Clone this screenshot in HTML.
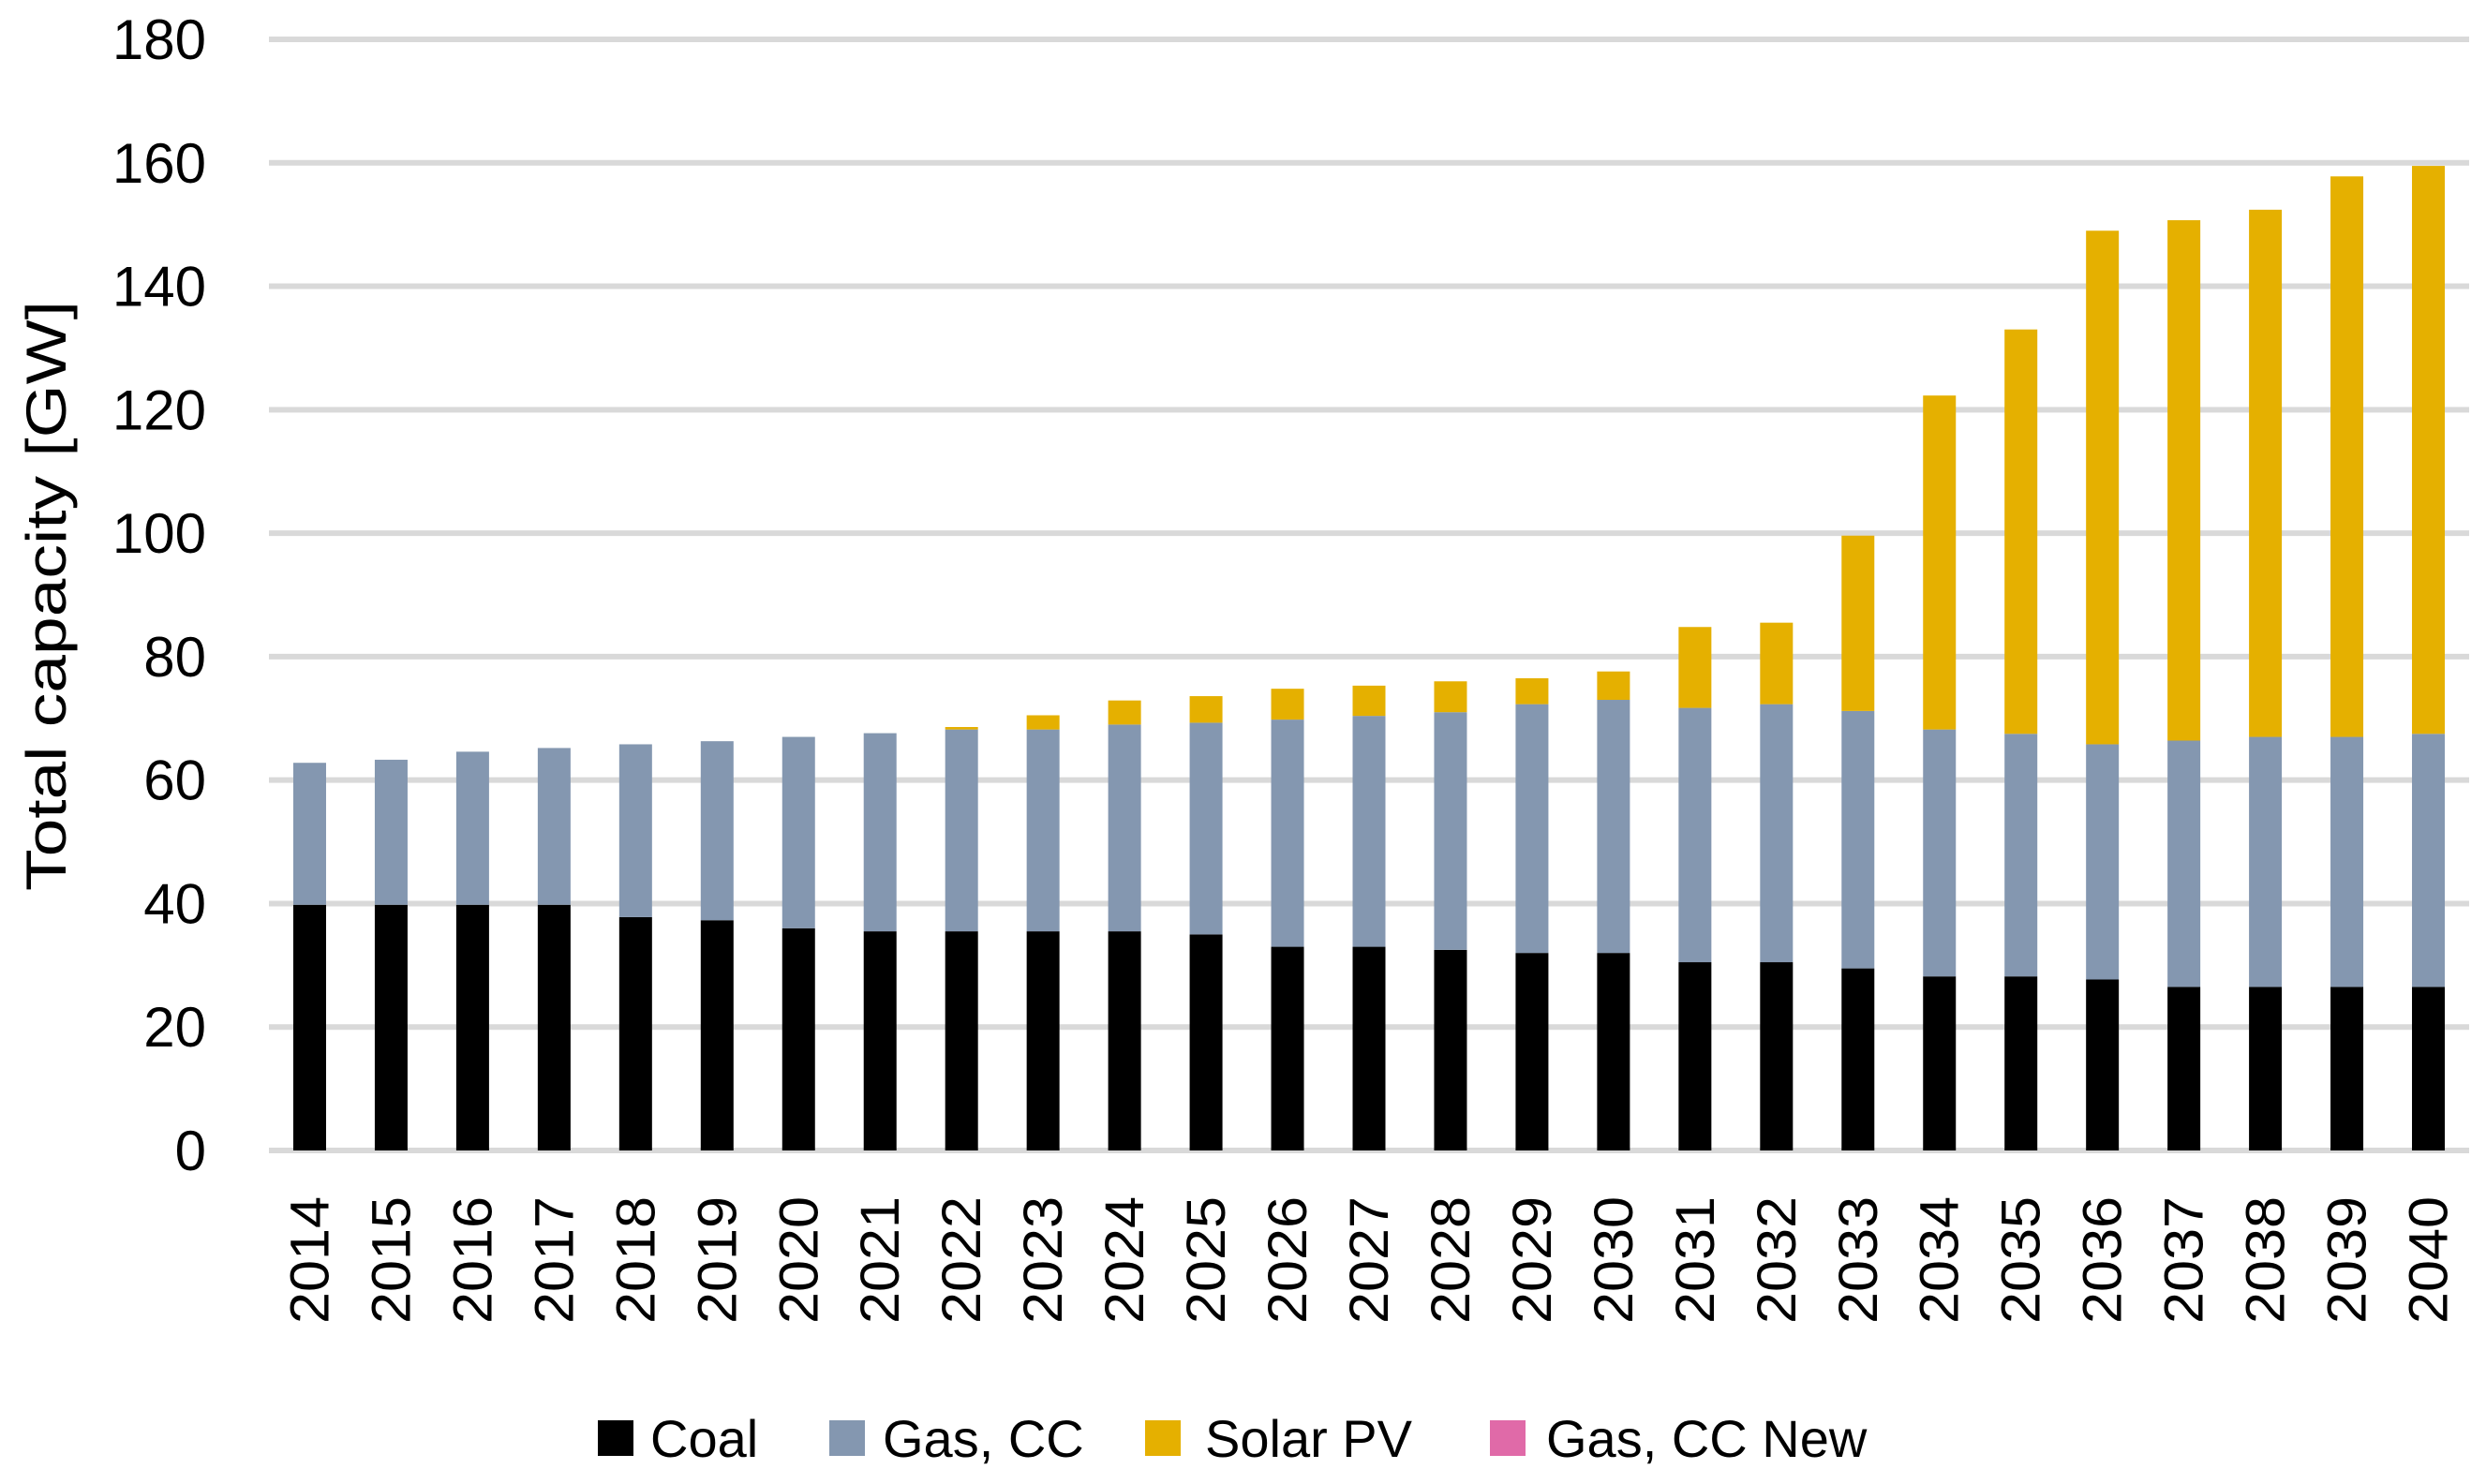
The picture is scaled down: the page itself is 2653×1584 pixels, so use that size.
<!DOCTYPE html>
<html><head><meta charset="utf-8"><style>
html,body{margin:0;padding:0;background:#fff;}
svg{display:block;font-family:"Liberation Sans",sans-serif;}
</style></head><body>
<svg id="chart" width="2653" height="1584" viewBox="0 0 2653 1584">
<g id="grid"></g>
<g id="bars"></g>
<g id="yticks"></g>
<g id="xticks"></g>
<text transform="translate(70,636) rotate(-90)" text-anchor="middle" font-size="60" textLength="630" lengthAdjust="spacingAndGlyphs">Total capacity [GW]</text>
<g>
<g><rect x="638" y="1516" width="38" height="38" fill="#000"/><text x="694" y="1555" font-size="56">Coal</text></g>
<g><rect x="885" y="1516" width="38" height="38" fill="#8497b0"/><text x="942" y="1555" font-size="56">Gas, CC</text></g>
<g><rect x="1222" y="1516" width="38" height="38" fill="#e5b000"/><text x="1286" y="1555" font-size="56">Solar PV</text></g>
<g><rect x="1590" y="1516" width="38" height="38" fill="#e06aa8"/><text x="1650" y="1555" font-size="56">Gas, CC New</text></g>
</g>
</svg>
<script>
const years = [2014,2015,2016,2017,2018,2019,2020,2021,2022,2023,2024,2025,2026,2027,2028,2029,2030,2031,2032,2033,2034,2035,2036,2037,2038,2039,2040];
const coal = [39.8,39.8,39.8,39.8,37.8,37.3,36,35.5,35.5,35.5,35.5,35,33,33,32.5,32,32,30.5,30.5,29.5,28.2,28.2,27.7,26.5,26.5,26.5,26.5];
const gasTop = [62.8,63.3,64.6,65.2,65.8,66.3,67,67.6,68.2,68.2,69,69.3,69.8,70.4,71,72.3,73,71.7,72.3,71.2,68.2,67.5,65.8,66.4,67,67,67.5];
const totalTop = [62.8,63.3,64.6,65.2,65.8,66.3,67,67.6,68.6,70.5,72.9,73.6,74.8,75.3,76,76.5,77.6,84.8,85.5,99.6,122.3,133,149,150.7,152.4,157.8,159.5];
const yTicks = [0,20,40,60,80,100,120,140,160,180];

const NS="http://www.w3.org/2000/svg";
const x0=287, x1=2635, yBase=1228, yTopPx=42, yMax=180;
const band=(x1-x0)/years.length, bw=35;
const Y=v=>yBase-(v/yMax)*(yBase-yTopPx);
const X=i=>x0+band*(i+0.5);
function mk(t,a,p){const e=document.createElementNS(NS,t);for(const k in a)e.setAttribute(k,a[k]);p.appendChild(e);return e;}
const grid=document.getElementById('grid'),bars=document.getElementById('bars'),yt=document.getElementById('yticks'),xt=document.getElementById('xticks');
yTicks.forEach(v=>{
  const l=mk('line',{x1:x0,x2:x1,y1:Y(v),y2:Y(v),stroke:'#d9d9d9','stroke-width':6},grid);
  
  
  const t=mk('text',{x:220,y:Y(v)+21,'text-anchor':'end','font-size':60},yt);
  t.textContent=v;
  
  
});
years.forEach((yr,i)=>{
  const cx=X(i);
  const segs=[[0,coal[i],'#000','coal'],[coal[i],gasTop[i],'#8497b0','gas-cc'],[gasTop[i],totalTop[i],'#e5b000','solar-pv']];
  segs.forEach(s=>{
    if(s[1]<=s[0])return;
    const r=mk('rect',{x:cx-bw/2,y:Y(s[1]),width:bw,height:Y(s[0])-Y(s[1]),fill:s[2]},bars);
    
    
  });
  const t=mk('text',{transform:`translate(${cx+20},1277) rotate(-90)`,'text-anchor':'end','font-size':58,textLength:136,lengthAdjust:'spacingAndGlyphs'},xt);
  t.textContent=yr;
  
  
});
</script>
</body></html>
